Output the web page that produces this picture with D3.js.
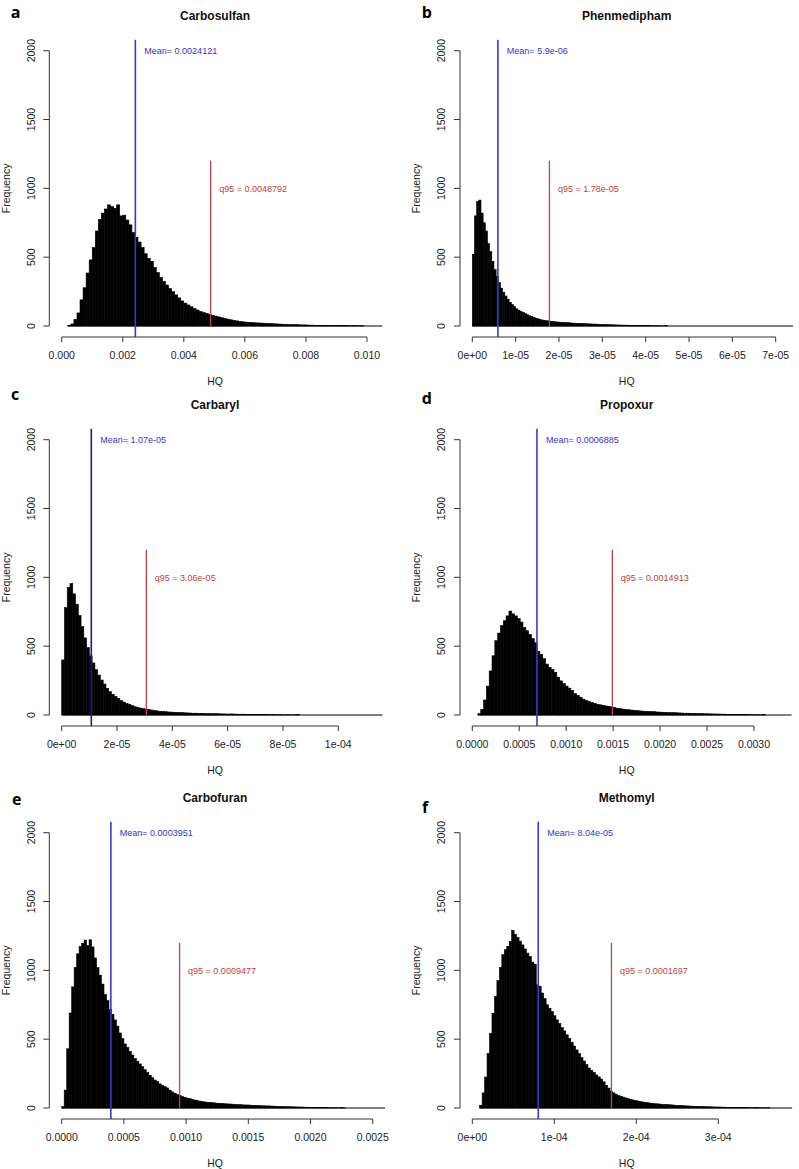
<!DOCTYPE html>
<html>
<head>
<meta charset="utf-8">
<script src="https://cdn.jsdelivr.net/npm/d3@7"></script>
<style>
body { margin: 0; background: #fff; }
svg { display: block; }
</style>
</head>
<body>
<div id="wrapper"></div>
<script>
// values
const letters = ["a", "b", "c", "d", "e", "f"]
const titles = ["Carbosulfan", "Phenmedipham", "Carbaryl", "Propoxur", "Carbofuran", "Methomyl"]

const meanValues = [0.0024121, 5.9e-06, 1.07e-05, 0.0006885, 0.0003951, 8.04e-05]
const meanLabels = ["Mean= 0.0024121", "Mean= 5.9e-06", "Mean= 1.07e-05", "Mean= 0.0006885", "Mean= 0.0003951", "Mean= 8.04e-05"]
const q95Values = [0.0048792, 1.78e-05, 3.06e-05, 0.0014913, 0.0009477, 0.0001697]
const q95Labels = ["q95 = 0.0048792", "q95 = 1.78e-05", "q95 = 3.06e-05", "q95 = 0.0014913", "q95 = 0.0009477", "q95 = 0.0001697"]

// first break, bin width, last break of each histogram
const binStarts = [0.0002, 0, 0, 0.00006, 0, 0.000009]
const binWidths = [0.0001, 5e-07, 1e-06, 0.00003, 0.00002, 0.000003]
const lastBreaks = [0.0105, 7.4e-05, 1.16e-04, 0.0034, 0.0026, 3.9e-04]

const carbosulfanCounts = [3,15,48,95,190,278,385,480,570,690,775,820,850,880,868,855,880,800,805,770,
  735,680,645,610,570,525,492,470,425,388,352,325,298,272,250,226,204,182,166,153,
  140,128,116,105,98,92,84,78,72,66,60,55,50,45,41,37,33,30,28,26,
  25,23,22,21,20,19,18,16,15,14,13,12,11,10,10,9,8,8,7,6,
  6,5,5,4,4,4,3,3,3,4,3,3,2,3,2,2,2]
const phenmediphamCounts = [520,800,905,915,820,750,690,600,540,470,410,360,315,275,245,218,195,172,155,142,
  125,115,106,98,90,82,74,68,62,56,52,46,
  43,40,38,36,34,32,30,29,27,26,25,24,24,22,21,20,19,19,18,17,
  16,16,15,14,14,13,12,12,11,10,10,9,9,8,8,7,7,6,6,6,
  5,5,5,4,4,4,3,4,3,3,2,2,2,2,1,1,1,4]
const carbarylCounts = [400,780,925,955,880,805,722,642,560,490,430,378,330,290,254,225,194,170,150,135,
  121,105,94,85,77,69,60,55,50,46,43,40,36,32,30,27,25,24,22,21,
  20,19,18,17,16,15,14,13,13,12,12,11,10,10,9,10,9,8,8,7,
  7,8,6,6,5,6,5,4,5,4,4,3,4,3,3,2,3,2,2,2,
  1,2,1,1,2,3]
const propoxurCounts = [10,40,109,210,320,430,540,595,650,685,720,755,735,720,700,675,635,612,585,555,
  525,462,440,410,370,345,330,310,275,248,228,210,195,178,156,143,129,115,106,98,
  90,84,78,74,70,66,63,59,55,49,46,43,40,38,36,34,32,30,28,27,
  26,25,24,22,21,20,19,18,17,17,16,15,14,13,13,12,12,11,10,10,
  9,9,8,8,7,7,6,6,5,5,5,4,4,3,3,3,2,2,2,2,1,3]
const carbofuranCounts = [10,130,430,690,880,1020,1120,1175,1195,1220,1180,1222,1170,1090,1020,965,900,825,780,715,
  680,640,595,545,505,465,440,410,385,360,340,320,300,278,258,238,220,203,192,175,
  163,155,146,130,117,108,98,90,83,78,72,68,63,58,54,50,47,44,42,40,
  39,37,35,34,33,31,30,29,28,26,25,24,23,22,22,21,20,19,18,17,
  16,16,15,15,14,13,12,12,11,10,10,9,9,8,8,7,7,6,6,5,
  5,4,5,4,3,3,3,2,2,2,2,1,3,1]
const methomylCounts = [20,110,225,397,540,688,810,925,1020,1115,1150,1175,1210,1290,1262,1240,1212,1185,1155,1125,
  1100,1060,1045,895,885,835,795,750,725,700,670,640,615,585,560,532,505,478,450,422,
  395,368,341,315,290,272,258,240,226,210,190,165,145,122,110,100,92,85,79,73,
  67,62,58,54,50,46,43,41,38,35,33,31,30,28,26,25,24,23,22,20,
  19,18,17,16,15,14,13,12,12,11,10,10,9,9,8,8,7,7,6,6,
  5,5,5,4,4,4,3,3,3,2,2,2,3,2,1,2,1,2]
const allCounts = [carbosulfanCounts, phenmediphamCounts, carbarylCounts, propoxurCounts, carbofuranCounts, methomylCounts]

// axis ticks
const yTicks = [0, 500, 1000, 1500, 2000]
const xTicks = [
  [0, 0.002, 0.004, 0.006, 0.008, 0.010],
  [0, 1e-05, 2e-05, 3e-05, 4e-05, 5e-05, 6e-05, 7e-05],
  [0, 2e-05, 4e-05, 6e-05, 8e-05, 1e-04],
  [0, 0.0005, 0.0010, 0.0015, 0.0020, 0.0025, 0.0030],
  [0, 0.0005, 0.0010, 0.0015, 0.0020, 0.0025],
  [0, 1e-04, 2e-04, 3e-04]
]
const xTickLabels = [
  ["0.000", "0.002", "0.004", "0.006", "0.008", "0.010"],
  ["0e+00", "1e-05", "2e-05", "3e-05", "4e-05", "5e-05", "6e-05", "7e-05"],
  ["0e+00", "2e-05", "4e-05", "6e-05", "8e-05", "1e-04"],
  ["0.0000", "0.0005", "0.0010", "0.0015", "0.0020", "0.0025", "0.0030"],
  ["0.0000", "0.0005", "0.0010", "0.0015", "0.0020", "0.0025"],
  ["0e+00", "1e-04", "2e-04", "3e-04"]
]

// layout
const colAxisX = [49.3, 460]
const colZeroX = [61.7, 472.3]
const colCenter = [215, 626.7]
const rowZeroY = [326, 715, 1108]
const lastTickPx = [367, 775.7, 338.3, 754, 372.7, 718.3]
const letterPos = [[15.7, 18], [426.7, 18], [15, 400], [426.7, 404], [16.7, 805], [425, 813]]
const plotHeight = 275.3   // pixels for 0..2000

const font = "'Liberation Sans', Arial, Helvetica, sans-serif"
const meanLine = ["#3a3acc", "#3a3acc", "#1a1a90", "#3a3acc", "#3a3acc", "#3a3acc"]

function draw() {
  const svg = d3.select("#wrapper")
    .append("svg")
    .attr("width", 799)
    .attr("height", 1169)
    .style("font-family", font)

  for (let p = 0; p < 6; p++) {
    const col = p % 2
    const row = Math.floor(p / 2)
    const ticks = xTicks[p]
    const lastTick = ticks[ticks.length - 1]

    const x = d3.scaleLinear()
      .domain([0, lastTick])
      .range([colZeroX[col], lastTickPx[p]])
    const y = d3.scaleLinear()
      .domain([0, 2000])
      .range([rowZeroY[row], rowZeroY[row] - plotHeight])

    const g = svg.append("g")

    // bins
    const bins = allCounts[p].map((c, i) => ({
      x0: binStarts[p] + i * binWidths[p],
      x1: binStarts[p] + (i + 1) * binWidths[p],
      count: c
    }))

    g.append("line")
      .attr("x1", x(binStarts[p]))
      .attr("x2", x(lastBreaks[p]))
      .attr("y1", y(0))
      .attr("y2", y(0))
      .attr("stroke", "#000")
      .attr("stroke-width", 1)

    g.selectAll("rect.bar")
      .data(bins)
      .enter()
      .append("rect")
      .attr("class", "bar")
      .attr("x", d => x(d.x0))
      .attr("width", d => x(d.x1) - x(d.x0))
      .attr("y", d => y(d.count))
      .attr("height", d => y(0) - y(d.count))
      .attr("fill", "#000")
      .attr("stroke", "#000")
      .attr("stroke-width", 0.6)

    // mean line across the whole plot region, q95 segment up to 1200
    g.append("line")
      .attr("x1", x(meanValues[p]))
      .attr("x2", x(meanValues[p]))
      .attr("y1", y(2080))
      .attr("y2", y(-80))
      .attr("stroke", meanLine[p])
      .attr("stroke-width", 1.6)

    g.append("line")
      .attr("x1", x(q95Values[p]))
      .attr("x2", x(q95Values[p]))
      .attr("y1", y(1200))
      .attr("y2", y(0))
      .attr("stroke", "#b84444")
      .attr("stroke-width", 1.3)

    g.append("text")
      .attr("x", x(meanValues[p]) + 9)
      .attr("y", y(2000))
      .attr("dy", "0.35em")
      .attr("font-size", 9)
      .attr("fill", "#3434c8")
      .text(meanLabels[p])

    g.append("text")
      .attr("x", x(q95Values[p]) + 8.5)
      .attr("y", y(1000))
      .attr("dy", "0.35em")
      .attr("font-size", 9)
      .attr("fill", "#c23e3e")
      .text(q95Labels[p])

    // x axis
    const axisY = y(-80)
    g.append("line")
      .attr("x1", x(0))
      .attr("x2", x(lastTick))
      .attr("y1", axisY)
      .attr("y2", axisY)
      .attr("stroke", "#333")
    g.selectAll("line.xt")
      .data(ticks)
      .enter()
      .append("line")
      .attr("class", "xt")
      .attr("x1", d => x(d))
      .attr("x2", d => x(d))
      .attr("y1", axisY)
      .attr("y2", axisY + 5)
      .attr("stroke", "#333")
    g.selectAll("text.xl")
      .data(ticks)
      .enter()
      .append("text")
      .attr("class", "xl")
      .attr("x", d => x(d))
      .attr("y", axisY + 18)
      .attr("dy", "0.35em")
      .attr("text-anchor", "middle")
      .attr("font-size", 10.5)
      .attr("fill", "#222")
      .text((d, i) => xTickLabels[p][i])

    // y axis
    const ax = colAxisX[col]
    g.append("line")
      .attr("x1", ax)
      .attr("x2", ax)
      .attr("y1", y(0))
      .attr("y2", y(2000))
      .attr("stroke", "#333")
    g.selectAll("line.yt")
      .data(yTicks)
      .enter()
      .append("line")
      .attr("class", "yt")
      .attr("x1", ax - 6)
      .attr("x2", ax)
      .attr("y1", d => y(d))
      .attr("y2", d => y(d))
      .attr("stroke", "#333")
    g.selectAll("text.yl")
      .data(yTicks)
      .enter()
      .append("text")
      .attr("class", "yl")
      .attr("transform", d => `translate(${ax - 18.3},${y(d)}) rotate(-90)`)
      .attr("dy", "0.35em")
      .attr("text-anchor", "middle")
      .attr("font-size", 10.5)
      .attr("fill", "#222")
      .text(d => d)

    g.append("text")
      .attr("transform", `translate(${ax - 43.3},${y(1000)}) rotate(-90)`)
      .attr("dy", "0.35em")
      .attr("text-anchor", "middle")
      .attr("font-size", 10.5)
      .attr("fill", "#222")
      .text("Frequency")

    g.append("text")
      .attr("x", colCenter[col])
      .attr("y", axisY + 44)
      .attr("dy", "0.35em")
      .attr("text-anchor", "middle")
      .attr("font-size", 10.5)
      .attr("fill", "#222")
      .text("HQ")

    // title and panel letter
    g.append("text")
      .attr("x", colCenter[col])
      .attr("y", y(2000) - 34.5)
      .attr("dy", "0.35em")
      .attr("text-anchor", "middle")
      .attr("font-size", 12)
      .attr("font-weight", "bold")
      .attr("fill", "#111")
      .text(titles[p])

    g.append("text")
      .attr("x", letterPos[p][0])
      .attr("y", letterPos[p][1])
      .attr("text-anchor", "middle")
      .attr("font-family", "'Open Sans', 'DejaVu Sans', sans-serif")
      .attr("font-size", 16)
      .attr("font-weight", "bold")
      .attr("fill", "#000")
      .text(letters[p])
  }
}

draw()
</script>
</body>
</html>
